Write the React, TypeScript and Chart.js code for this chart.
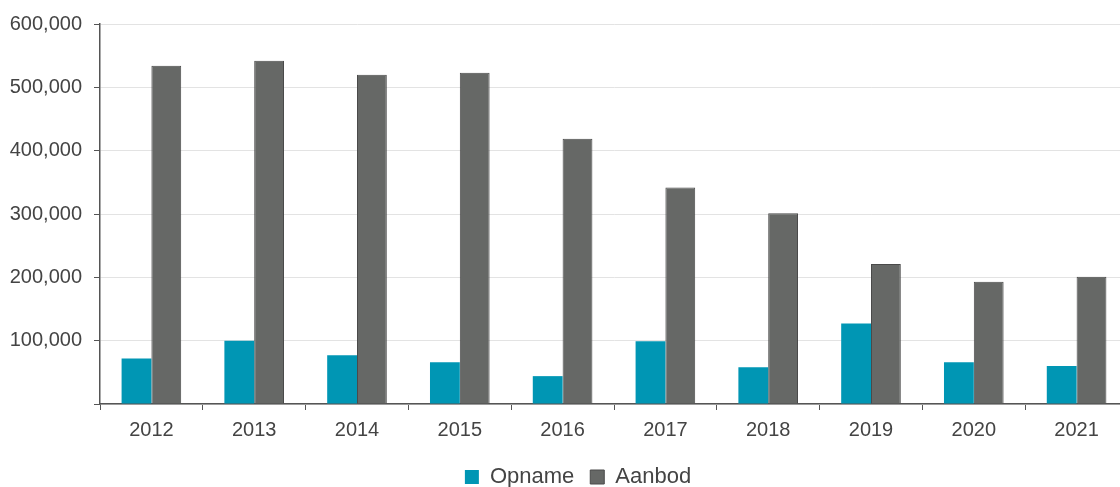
import React, { useEffect, useRef } from "react";
import { Chart, registerables } from "chart.js";

Chart.register(...registerables);

const categories = ["2012", "2013", "2014", "2015", "2016", "2017", "2018", "2019", "2020", "2021"];
const opname = [72000, 100000, 77000, 66000, 44000, 99000, 58000, 127000, 66000, 60000];
const aanbod = [534000, 542000, 520000, 523000, 419000, 342000, 301000, 221000, 193000, 201000];
const seriesNames = ["Opname", "Aanbod"];

const shiftLegend = {
  id: "shiftLegend",
  afterLayout(chart: any) {
    const l = chart.legend;
    if (l) {
      l.left += 14;
      l.right += 14;
    }
  },
};

export default function App() {
  const ref = useRef<HTMLCanvasElement | null>(null);

  useEffect(() => {
    if (!ref.current) return;
    const chart = new Chart(ref.current, {
      type: "bar",
      data: {
        labels: categories,
        datasets: [
          {
            label: seriesNames[0],
            data: opname,
            backgroundColor: "#0096b4",
            borderWidth: 0,
            categoryPercentage: 0.58,
            barPercentage: 1.0,
          },
          {
            label: seriesNames[1],
            data: aanbod,
            backgroundColor: "#666866",
            borderColor: "#4a4a4a",
            borderWidth: 1,
            categoryPercentage: 0.58,
            barPercentage: 1.0,
          },
        ],
      },
      options: {
        responsive: false,
        animation: false,
        layout: { padding: { top: 22, right: 28, left: 0, bottom: -11 } },
        plugins: {
          tooltip: { enabled: false },
          legend: {
            position: "bottom",
            labels: {
              boxWidth: 14,
              boxHeight: 14,
              padding: 16,
              color: "#444444",
              font: { family: "'Liberation Sans', Arial, sans-serif", size: 22 },
            },
          },
        },
        scales: {
          x: {
            grid: {
              drawOnChartArea: false,
              tickLength: 6,
              tickColor: "#555555",
              offset: true,
            },
            border: { color: "#555555", width: 1.5 },
            ticks: {
              color: "#444444",
              padding: 8,
              font: { family: "'Liberation Sans', Arial, sans-serif", size: 20 },
            },
          },
          y: {
            min: 0,
            max: 600000,
            afterFit: (scale: any) => {
              scale.width = 100;
            },
            grid: {
              color: "#e3e3e3",
              tickLength: 6,
              tickColor: "#555555",
            },
            border: { color: "#555555", width: 1.5 },
            ticks: {
              stepSize: 100000,
              color: "#444444",
              padding: 12,
              font: { family: "'Liberation Sans', Arial, sans-serif", size: 20 },
              callback: (v: any) => (Number(v) === 0 ? "" : Number(v).toLocaleString("en-US")),
            },
          },
        },
      },
      plugins: [shiftLegend],
    });
    return () => chart.destroy();
  }, []);

  return (
    <div
      style={{
        position: "fixed",
        left: 0,
        top: 0,
        width: 1120,
        height: 487,
        overflow: "hidden",
        background: "#ffffff",
      }}
    >
      <canvas ref={ref} width={1156} height={487} style={{ width: 1156, height: 487, display: "block" }} />
    </div>
  );
}
